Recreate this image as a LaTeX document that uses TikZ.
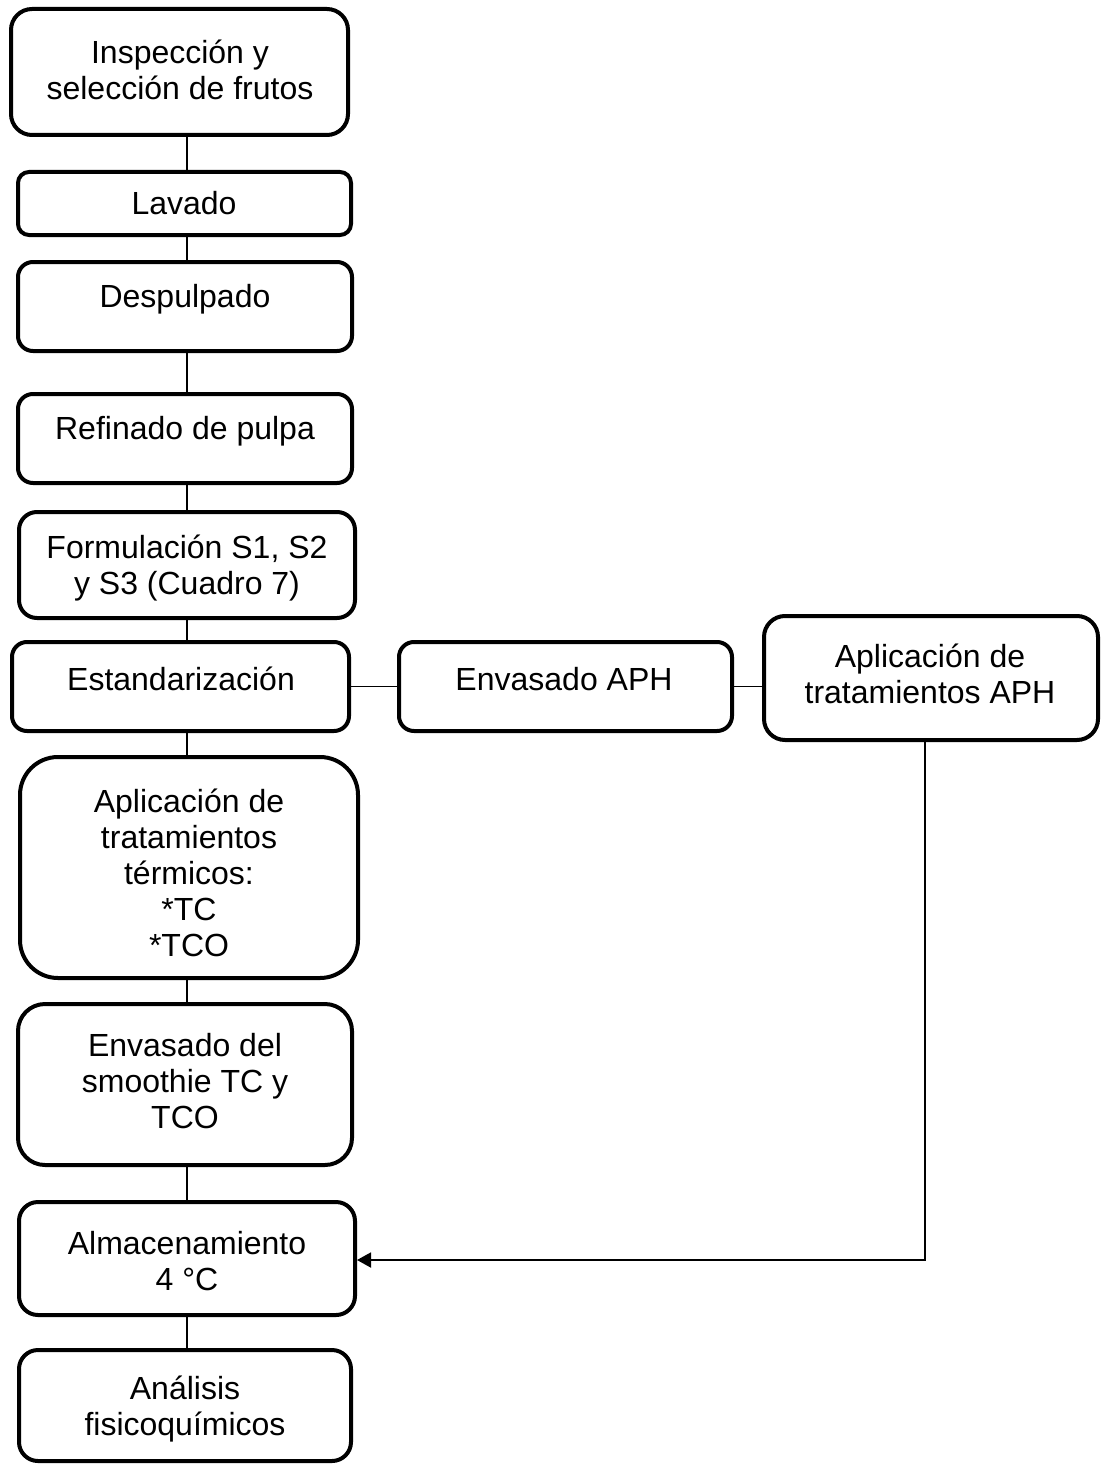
\documentclass[tikz,border=0pt]{standalone}
\usepackage{fontspec}
\setmainfont{Liberation Sans}
\usetikzlibrary{arrows.meta}
\tikzset{
  box/.style={draw=black, line width=4pt, fill=white, inner sep=0pt},
  txt/.style={align=center, inner sep=0pt, font=\fontsize{32}{36}\selectfont},
  conn/.style={draw=black, line width=1.8pt},
  arr/.style={draw=black, line width=1.8pt, -{Triangle[length=14pt,width=15pt]}}
}
\newcommand\mybox[6]{\node[box, minimum width=#4pt, minimum height=#5pt, rounded corners=#6pt] (#1) at (#2,#3) {};}
\begin{document}
\begin{tikzpicture}[x=1pt,y=-1pt]
\useasboundingbox (0,0) rectangle (1102,1466);
\mybox{b1}{179.5}{72}{337}{126}{21}
\mybox{b2}{184.5}{203.5}{333}{63}{11}
\mybox{b3}{185}{306.5}{334}{89}{15}
\mybox{b4}{185}{438.5}{334}{89}{15}
\mybox{b5}{187}{565}{336}{106}{18}
\mybox{b6}{180.5}{686.5}{337}{89}{15}
\mybox{b7}{565.5}{686.5}{333}{89}{15}
\mybox{b8}{931}{678}{334}{124}{21}
\mybox{b9}{189}{867.5}{338}{221}{38}
\mybox{b10}{185}{1084.5}{334}{161}{27}
\mybox{b11}{187}{1258.5}{336}{113}{19}
\mybox{b12}{185}{1405.5}{332}{111}{19}
\node[txt] (t1) at (180,70) {Inspección y\\selección de frutos};
\node[txt] (t2) at (184,203) {Lavado};
\node[txt] (t3) at (185,299) {Despulpado};
\node[txt] (t4) at (185,431) {Refinado de pulpa};
\node[txt] (t5) at (187,568) {Formulación S1, S2\\y S3 (Cuadro 7)};
\node[txt] (t6) at (181,679) {Estandarización};
\node[txt] (t7) at (564,679) {Envasado APH};
\node[txt] (t8) at (930,674) {Aplicación de\\tratamientos APH};
\node[txt] (t9) at (189,873) {Aplicación de\\tratamientos\\térmicos:\\*TC\\*TCO};
\node[txt] (t10) at (185,1081) {Envasado del\\smoothie TC y\\TCO};
\node[txt] (t11) at (187,1261) {Almacenamiento\\4 °C};
\node[txt] (t12) at (185,1409) {Análisis\\fisicoquímicos};
\coordinate (cx) at (187,0);
\coordinate (ax) at (925,0);
\draw[conn] (b1.south -| cx) -- (b2.north -| cx);
\draw[conn] (b2.south -| cx) -- (b3.north -| cx);
\draw[conn] (b3.south -| cx) -- (b4.north -| cx);
\draw[conn] (b4.south -| cx) -- (b5.north -| cx);
\draw[conn] (b5.south -| cx) -- (b6.north -| cx);
\draw[conn] (b6.south -| cx) -- (b9.north -| cx);
\draw[conn] (b9.south -| cx) -- (b10.north -| cx);
\draw[conn] (b10.south -| cx) -- (b11.north -| cx);
\draw[conn] (b11.south -| cx) -- (b12.north -| cx);
\draw[conn] (b6.east) -- (b7.west);
\draw[conn] (b7.east) -- (b7.east -| b8.west);
\draw[arr] (b8.south -| ax) |- ([yshift=-1.5pt]b11.east);
\end{tikzpicture}
\end{document}
